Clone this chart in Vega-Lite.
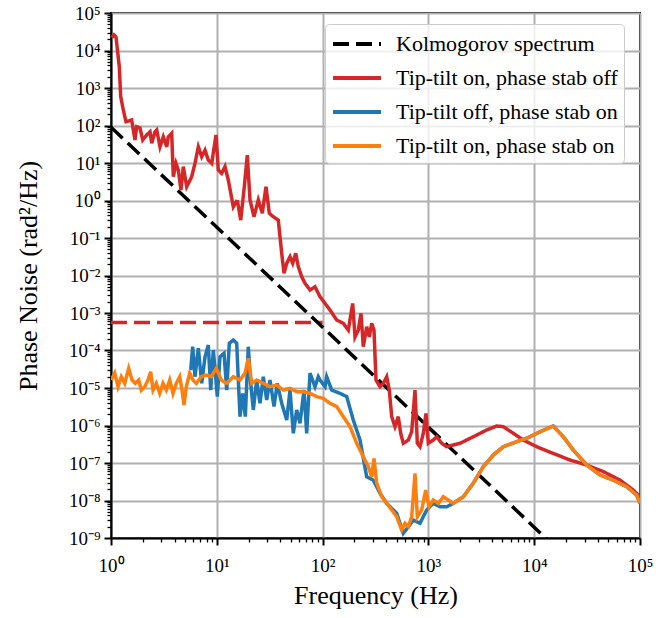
{
  "$schema": "https://vega.github.io/schema/vega-lite/v6.json",
  "autosize": {"type": "none"},
  "width": 529,
  "height": 525,
  "padding": {"left": 111, "top": 13, "right": 16, "bottom": 80},
  "background": "white",
  "config": {
    "view": {"stroke": "black", "strokeWidth": 2},
    "font": "Liberation Serif",
    "axis": {
      "domainColor": "black", "domainWidth": 2,
      "tickColor": "black",
      "labelFont": "Liberation Serif", "labelFontSize": 19, "labelColor": "black",
      "titleFont": "Liberation Serif", "titleFontSize": 26, "titleFontWeight": "normal", "titleColor": "black",
      "gridColor": "#b0b0b0", "gridWidth": 2,
      "labelOverlap": false, "labelBound": false, "labelFlush": false
    },
    "legend": {
      "orient": "none", "legendX": 214, "legendY": 11,
      "labelFont": "Liberation Serif", "labelFontSize": 22, "labelColor": "black", "labelLimit": 400,
      "symbolType": "M-2,0H2", "symbolSize": 576, "symbolStrokeWidth": 4, "symbolOffset": 12,
      "rowPadding": 9, "padding": 6, "labelOffset": 25,
      "strokeColor": "#cccccc", "fillColor": "rgba(255,255,255,0.8)", "cornerRadius": 4
    }
  },
  "layer": [
    {
      "data": {"values": [{"f": 1, "v": 5.6e-4}, {"f": 100, "v": 5.6e-4}]},
      "mark": {"type": "line", "color": "#d62728", "strokeWidth": 3.5, "strokeDash": [16, 7], "clip": true},
      "encoding": {
        "x": {"field": "f", "type": "quantitative", "scale": {"type": "log", "domain": [1, 100000], "nice": false},
          "axis": {"title": "Frequency (Hz)", "tickCount": 50, "titlePadding": 7, "labelPadding": 11,
            "labelExpr": "abs(log(datum.value)/LN10 - round(log(datum.value)/LN10)) < 1e-6 ? '10' + (round(log(datum.value)/LN10) < 0 ? '⁻' : '') + substring('⁰¹²³⁴⁵⁶⁷⁸⁹', abs(round(log(datum.value)/LN10)), abs(round(log(datum.value)/LN10)) + 1) : ''",
            "tickSize": {"condition": {"test": "abs(log(datum.value)/LN10 - round(log(datum.value)/LN10)) < 1e-6", "value": 7}, "value": 4},
            "tickWidth": {"condition": {"test": "abs(log(datum.value)/LN10 - round(log(datum.value)/LN10)) < 1e-6", "value": 2}, "value": 1.3},
            "gridOpacity": {"condition": {"test": "abs(log(datum.value)/LN10 - round(log(datum.value)/LN10)) < 1e-6", "value": 1}, "value": 0}}},
        "y": {"field": "v", "type": "quantitative", "scale": {"type": "log", "domain": [1e-9, 100000], "nice": false},
          "axis": {"title": "Phase Noise (rad²/Hz)", "tickCount": 50, "titlePadding": 27, "labelPadding": 4,
            "labelExpr": "abs(log(datum.value)/LN10 - round(log(datum.value)/LN10)) < 1e-6 ? '10' + (round(log(datum.value)/LN10) < 0 ? '⁻' : '') + substring('⁰¹²³⁴⁵⁶⁷⁸⁹', abs(round(log(datum.value)/LN10)), abs(round(log(datum.value)/LN10)) + 1) : ''",
            "tickSize": {"condition": {"test": "abs(log(datum.value)/LN10 - round(log(datum.value)/LN10)) < 1e-6", "value": 7}, "value": 4},
            "tickWidth": {"condition": {"test": "abs(log(datum.value)/LN10 - round(log(datum.value)/LN10)) < 1e-6", "value": 2}, "value": 1.3},
            "gridOpacity": {"condition": {"test": "abs(log(datum.value)/LN10 - round(log(datum.value)/LN10)) < 1e-6", "value": 1}, "value": 0}}}
      }
    },
    {
      "data": {"name": "curves"},
      "mark": {"type": "line", "strokeWidth": 3.5, "clip": true},
      "encoding": {
        "x": {"field": "f", "type": "quantitative"},
        "y": {"field": "v", "type": "quantitative"},
        "color": {"field": "s", "type": "nominal",
          "scale": {"domain": ["Kolmogorov spectrum", "Tip-tilt on, phase stab off", "Tip-tilt off, phase stab on", "Tip-tilt on, phase stab on"],
                    "range": ["#000000", "#d62728", "#1f77b4", "#ff7f0e"]},
          "legend": {"title": null}},
        "strokeDash": {"field": "s", "type": "nominal",
          "scale": {"domain": ["Kolmogorov spectrum", "Tip-tilt on, phase stab off", "Tip-tilt off, phase stab on", "Tip-tilt on, phase stab on"],
                    "range": [[16, 7], [1, 0], [1, 0], [1, 0]]},
          "legend": {"title": null}}
      }
    }
  ],
  "datasets": {
    "curves": [
      {"s": "Kolmogorov spectrum", "f": 1, "v": 90},
      {"s": "Kolmogorov spectrum", "f": 100000, "v": 4.18e-12},
      {"s": "Tip-tilt on, phase stab off", "f": 1.02, "v": 2.2e4},
      {"s": "Tip-tilt on, phase stab off", "f": 1.068, "v": 2.6e4},
      {"s": "Tip-tilt on, phase stab off", "f": 1.115, "v": 2.3e4},
      {"s": "Tip-tilt on, phase stab off", "f": 1.198, "v": 3.7e3},
      {"s": "Tip-tilt on, phase stab off", "f": 1.235, "v": 590},
      {"s": "Tip-tilt on, phase stab off", "f": 1.307, "v": 260},
      {"s": "Tip-tilt on, phase stab off", "f": 1.386, "v": 126},
      {"s": "Tip-tilt on, phase stab off", "f": 1.569, "v": 140},
      {"s": "Tip-tilt on, phase stab off", "f": 1.686, "v": 41},
      {"s": "Tip-tilt on, phase stab off", "f": 1.75, "v": 93},
      {"s": "Tip-tilt on, phase stab off", "f": 1.879, "v": 86},
      {"s": "Tip-tilt on, phase stab off", "f": 1.994, "v": 41},
      {"s": "Tip-tilt on, phase stab off", "f": 2.175, "v": 56},
      {"s": "Tip-tilt on, phase stab off", "f": 2.337, "v": 68},
      {"s": "Tip-tilt on, phase stab off", "f": 2.425, "v": 33.5},
      {"s": "Tip-tilt on, phase stab off", "f": 2.605, "v": 68},
      {"s": "Tip-tilt on, phase stab off", "f": 2.704, "v": 76},
      {"s": "Tip-tilt on, phase stab off", "f": 2.905, "v": 27},
      {"s": "Tip-tilt on, phase stab off", "f": 3.121, "v": 50},
      {"s": "Tip-tilt on, phase stab off", "f": 3.361, "v": 27},
      {"s": "Tip-tilt on, phase stab off", "f": 3.48, "v": 50},
      {"s": "Tip-tilt on, phase stab off", "f": 3.747, "v": 62},
      {"s": "Tip-tilt on, phase stab off", "f": 3.88, "v": 4.3},
      {"s": "Tip-tilt on, phase stab off", "f": 4.115, "v": 9.8},
      {"s": "Tip-tilt on, phase stab off", "f": 4.326, "v": 6.5},
      {"s": "Tip-tilt on, phase stab off", "f": 4.587, "v": 1.9},
      {"s": "Tip-tilt on, phase stab off", "f": 4.824, "v": 8.0},
      {"s": "Tip-tilt on, phase stab off", "f": 5.195, "v": 2.33},
      {"s": "Tip-tilt on, phase stab off", "f": 5.79, "v": 4.3},
      {"s": "Tip-tilt on, phase stab off", "f": 6.22, "v": 9.8},
      {"s": "Tip-tilt on, phase stab off", "f": 6.69, "v": 27},
      {"s": "Tip-tilt on, phase stab off", "f": 7.2, "v": 14.7},
      {"s": "Tip-tilt on, phase stab off", "f": 7.74, "v": 22},
      {"s": "Tip-tilt on, phase stab off", "f": 8.31, "v": 12},
      {"s": "Tip-tilt on, phase stab off", "f": 8.95, "v": 9.8},
      {"s": "Tip-tilt on, phase stab off", "f": 9.83, "v": 56},
      {"s": "Tip-tilt on, phase stab off", "f": 10.33, "v": 6.5},
      {"s": "Tip-tilt on, phase stab off", "f": 11.12, "v": 5.3},
      {"s": "Tip-tilt on, phase stab off", "f": 11.95, "v": 8.0},
      {"s": "Tip-tilt on, phase stab off", "f": 12.85, "v": 3.5},
      {"s": "Tip-tilt on, phase stab off", "f": 14.32, "v": 0.68},
      {"s": "Tip-tilt on, phase stab off", "f": 15.62, "v": 1.03},
      {"s": "Tip-tilt on, phase stab off", "f": 16.83, "v": 0.3},
      {"s": "Tip-tilt on, phase stab off", "f": 18.2, "v": 2.33},
      {"s": "Tip-tilt on, phase stab off", "f": 19.42, "v": 16.3},
      {"s": "Tip-tilt on, phase stab off", "f": 20.6, "v": 1.03},
      {"s": "Tip-tilt on, phase stab off", "f": 22.47, "v": 0.37},
      {"s": "Tip-tilt on, phase stab off", "f": 24.67, "v": 1.03},
      {"s": "Tip-tilt on, phase stab off", "f": 26.92, "v": 0.456},
      {"s": "Tip-tilt on, phase stab off", "f": 29.17, "v": 2.33},
      {"s": "Tip-tilt on, phase stab off", "f": 31.35, "v": 0.456},
      {"s": "Tip-tilt on, phase stab off", "f": 34.2, "v": 0.37},
      {"s": "Tip-tilt on, phase stab off", "f": 38.13, "v": 0.3},
      {"s": "Tip-tilt on, phase stab off", "f": 41.07, "v": 0.039},
      {"s": "Tip-tilt on, phase stab off", "f": 43.17, "v": 0.0115},
      {"s": "Tip-tilt on, phase stab off", "f": 45.79, "v": 0.0211},
      {"s": "Tip-tilt on, phase stab off", "f": 49.19, "v": 0.0317},
      {"s": "Tip-tilt on, phase stab off", "f": 52.17, "v": 0.0211},
      {"s": "Tip-tilt on, phase stab off", "f": 55.68, "v": 0.039},
      {"s": "Tip-tilt on, phase stab off", "f": 58.92, "v": 0.0172},
      {"s": "Tip-tilt on, phase stab off", "f": 63.46, "v": 0.0093},
      {"s": "Tip-tilt on, phase stab off", "f": 68.19, "v": 0.0062},
      {"s": "Tip-tilt on, phase stab off", "f": 76.02, "v": 0.0041},
      {"s": "Tip-tilt on, phase stab off", "f": 84.76, "v": 0.005},
      {"s": "Tip-tilt on, phase stab off", "f": 94.5, "v": 0.00272},
      {"s": "Tip-tilt on, phase stab off", "f": 117.5, "v": 0.0012},
      {"s": "Tip-tilt on, phase stab off", "f": 135.9, "v": 6.5e-4},
      {"s": "Tip-tilt on, phase stab off", "f": 157, "v": 5.3e-4},
      {"s": "Tip-tilt on, phase stab off", "f": 175, "v": 3.5e-4},
      {"s": "Tip-tilt on, phase stab off", "f": 192.6, "v": 1.8e-3},
      {"s": "Tip-tilt on, phase stab off", "f": 202.4, "v": 2.3e-4},
      {"s": "Tip-tilt on, phase stab off", "f": 217.5, "v": 3.5e-4},
      {"s": "Tip-tilt on, phase stab off", "f": 230.7, "v": 9.8e-4},
      {"s": "Tip-tilt on, phase stab off", "f": 242.4, "v": 1.26e-4},
      {"s": "Tip-tilt on, phase stab off", "f": 261.1, "v": 4.3e-4},
      {"s": "Tip-tilt on, phase stab off", "f": 276.3, "v": 2.3e-4},
      {"s": "Tip-tilt on, phase stab off", "f": 291.2, "v": 5.3e-4},
      {"s": "Tip-tilt on, phase stab off", "f": 306.1, "v": 3.5e-4},
      {"s": "Tip-tilt on, phase stab off", "f": 319.7, "v": 1.63e-5},
      {"s": "Tip-tilt on, phase stab off", "f": 348.7, "v": 1.08e-5},
      {"s": "Tip-tilt on, phase stab off", "f": 374.8, "v": 1.33e-5},
      {"s": "Tip-tilt on, phase stab off", "f": 403.6, "v": 2.0e-5},
      {"s": "Tip-tilt on, phase stab off", "f": 427, "v": 8.8e-6},
      {"s": "Tip-tilt on, phase stab off", "f": 450, "v": 1.72e-6},
      {"s": "Tip-tilt on, phase stab off", "f": 483, "v": 9.3e-7},
      {"s": "Tip-tilt on, phase stab off", "f": 519, "v": 1.72e-6},
      {"s": "Tip-tilt on, phase stab off", "f": 547, "v": 6.2e-7},
      {"s": "Tip-tilt on, phase stab off", "f": 579, "v": 3.35e-7},
      {"s": "Tip-tilt on, phase stab off", "f": 646, "v": 4.1e-7},
      {"s": "Tip-tilt on, phase stab off", "f": 695, "v": 6.8e-7},
      {"s": "Tip-tilt on, phase stab off", "f": 747, "v": 8.8e-6},
      {"s": "Tip-tilt on, phase stab off", "f": 786, "v": 3.35e-7},
      {"s": "Tip-tilt on, phase stab off", "f": 833, "v": 2.72e-7},
      {"s": "Tip-tilt on, phase stab off", "f": 895, "v": 6.2e-7},
      {"s": "Tip-tilt on, phase stab off", "f": 949, "v": 2.1e-6},
      {"s": "Tip-tilt on, phase stab off", "f": 998, "v": 3.35e-7},
      {"s": "Tip-tilt on, phase stab off", "f": 1112, "v": 4.1e-7},
      {"s": "Tip-tilt on, phase stab off", "f": 1198, "v": 5.0e-7},
      {"s": "Tip-tilt on, phase stab off", "f": 1336, "v": 3.35e-7},
      {"s": "Tip-tilt on, phase stab off", "f": 1489, "v": 2.72e-7},
      {"s": "Tip-tilt on, phase stab off", "f": 1990, "v": 3.35e-7},
      {"s": "Tip-tilt on, phase stab off", "f": 2657, "v": 5.0e-7},
      {"s": "Tip-tilt on, phase stab off", "f": 3556, "v": 7.6e-7},
      {"s": "Tip-tilt on, phase stab off", "f": 4422, "v": 9.7e-7},
      {"s": "Tip-tilt on, phase stab off", "f": 5105, "v": 9.3e-7},
      {"s": "Tip-tilt on, phase stab off", "f": 6344, "v": 6.2e-7},
      {"s": "Tip-tilt on, phase stab off", "f": 7889, "v": 4.1e-7},
      {"s": "Tip-tilt on, phase stab off", "f": 10560, "v": 2.72e-7},
      {"s": "Tip-tilt on, phase stab off", "f": 15150, "v": 1.8e-7},
      {"s": "Tip-tilt on, phase stab off", "f": 21800, "v": 1.2e-7},
      {"s": "Tip-tilt on, phase stab off", "f": 31350, "v": 8.85e-8},
      {"s": "Tip-tilt on, phase stab off", "f": 45000, "v": 5.9e-8},
      {"s": "Tip-tilt on, phase stab off", "f": 64700, "v": 3.5e-8},
      {"s": "Tip-tilt on, phase stab off", "f": 86400, "v": 1.9e-8},
      {"s": "Tip-tilt on, phase stab off", "f": 100000, "v": 1.26e-8},
      {"s": "Tip-tilt off, phase stab on", "f": 5.666, "v": 3.0e-5},
      {"s": "Tip-tilt off, phase stab on", "f": 5.918, "v": 1.26e-4},
      {"s": "Tip-tilt off, phase stab on", "f": 6.22, "v": 2.0e-5},
      {"s": "Tip-tilt off, phase stab on", "f": 6.69, "v": 1.15e-4},
      {"s": "Tip-tilt off, phase stab on", "f": 7.2, "v": 1.33e-5},
      {"s": "Tip-tilt off, phase stab on", "f": 7.74, "v": 6.8e-5},
      {"s": "Tip-tilt off, phase stab on", "f": 8.31, "v": 1.4e-4},
      {"s": "Tip-tilt off, phase stab on", "f": 8.76, "v": 8.8e-6},
      {"s": "Tip-tilt off, phase stab on", "f": 9.27, "v": 1.03e-4},
      {"s": "Tip-tilt off, phase stab on", "f": 10.11, "v": 5.9e-6},
      {"s": "Tip-tilt off, phase stab on", "f": 10.72, "v": 6.8e-5},
      {"s": "Tip-tilt off, phase stab on", "f": 11.7, "v": 8.4e-5},
      {"s": "Tip-tilt off, phase stab on", "f": 12.41, "v": 8.8e-6},
      {"s": "Tip-tilt off, phase stab on", "f": 13.13, "v": 1.56e-4},
      {"s": "Tip-tilt off, phase stab on", "f": 14.32, "v": 1.9e-4},
      {"s": "Tip-tilt off, phase stab on", "f": 15.42, "v": 1.56e-4},
      {"s": "Tip-tilt off, phase stab on", "f": 15.97, "v": 1.63e-5},
      {"s": "Tip-tilt off, phase stab on", "f": 16.57, "v": 1.72e-6},
      {"s": "Tip-tilt off, phase stab on", "f": 17.57, "v": 7.2e-6},
      {"s": "Tip-tilt off, phase stab on", "f": 18.6, "v": 1.72e-6},
      {"s": "Tip-tilt off, phase stab on", "f": 19.85, "v": 1.26e-4},
      {"s": "Tip-tilt off, phase stab on", "f": 20.92, "v": 1.33e-5},
      {"s": "Tip-tilt off, phase stab on", "f": 22.13, "v": 2.6e-6},
      {"s": "Tip-tilt off, phase stab on", "f": 23.84, "v": 1.63e-5},
      {"s": "Tip-tilt off, phase stab on", "f": 25.6, "v": 3.9e-6},
      {"s": "Tip-tilt off, phase stab on", "f": 27.51, "v": 2.0e-5},
      {"s": "Tip-tilt off, phase stab on", "f": 29.62, "v": 4.8e-6},
      {"s": "Tip-tilt off, phase stab on", "f": 31.83, "v": 1.63e-5},
      {"s": "Tip-tilt off, phase stab on", "f": 34.73, "v": 3.2e-6},
      {"s": "Tip-tilt off, phase stab on", "f": 37.31, "v": 1.33e-5},
      {"s": "Tip-tilt off, phase stab on", "f": 41.07, "v": 3.9e-6},
      {"s": "Tip-tilt off, phase stab on", "f": 45.79, "v": 1.4e-6},
      {"s": "Tip-tilt off, phase stab on", "f": 49.19, "v": 8.8e-6},
      {"s": "Tip-tilt off, phase stab on", "f": 52.86, "v": 6.2e-7},
      {"s": "Tip-tilt off, phase stab on", "f": 56.91, "v": 2.6e-6},
      {"s": "Tip-tilt off, phase stab on", "f": 61.15, "v": 1.15e-6},
      {"s": "Tip-tilt off, phase stab on", "f": 66.71, "v": 8.8e-6},
      {"s": "Tip-tilt off, phase stab on", "f": 70.74, "v": 6.2e-7},
      {"s": "Tip-tilt off, phase stab on", "f": 76.02, "v": 2.5e-5},
      {"s": "Tip-tilt off, phase stab on", "f": 84.76, "v": 1.08e-5},
      {"s": "Tip-tilt off, phase stab on", "f": 91.09, "v": 2.0e-5},
      {"s": "Tip-tilt off, phase stab on", "f": 94.5, "v": 1.63e-5},
      {"s": "Tip-tilt off, phase stab on", "f": 105.4, "v": 1.08e-5},
      {"s": "Tip-tilt off, phase stab on", "f": 109.3, "v": 2.0e-5},
      {"s": "Tip-tilt off, phase stab on", "f": 121.9, "v": 8.8e-6},
      {"s": "Tip-tilt off, phase stab on", "f": 146, "v": 7.2e-6},
      {"s": "Tip-tilt off, phase stab on", "f": 169, "v": 5.9e-6},
      {"s": "Tip-tilt off, phase stab on", "f": 195, "v": 1.4e-6},
      {"s": "Tip-tilt off, phase stab on", "f": 225.7, "v": 4.1e-7},
      {"s": "Tip-tilt off, phase stab on", "f": 261, "v": 4.3e-8},
      {"s": "Tip-tilt off, phase stab on", "f": 301.4, "v": 3.5e-8},
      {"s": "Tip-tilt off, phase stab on", "f": 348.7, "v": 1.56e-8},
      {"s": "Tip-tilt off, phase stab on", "f": 403.6, "v": 8.4e-9},
      {"s": "Tip-tilt off, phase stab on", "f": 501.6, "v": 4.56e-9},
      {"s": "Tip-tilt off, phase stab on", "f": 579, "v": 1.33e-9},
      {"s": "Tip-tilt off, phase stab on", "f": 720, "v": 3.0e-9},
      {"s": "Tip-tilt off, phase stab on", "f": 833, "v": 2.47e-9},
      {"s": "Tip-tilt off, phase stab on", "f": 964, "v": 5.6e-9},
      {"s": "Tip-tilt off, phase stab on", "f": 1112, "v": 8.4e-9},
      {"s": "Tip-tilt off, phase stab on", "f": 1287, "v": 6.8e-9},
      {"s": "Tip-tilt off, phase stab on", "f": 1489, "v": 6.8e-9},
      {"s": "Tip-tilt off, phase stab on", "f": 1719, "v": 8.4e-9},
      {"s": "Tip-tilt off, phase stab on", "f": 2138, "v": 1.26e-8},
      {"s": "Tip-tilt off, phase stab on", "f": 2657, "v": 2.9e-8},
      {"s": "Tip-tilt off, phase stab on", "f": 3303, "v": 8.0e-8},
      {"s": "Tip-tilt off, phase stab on", "f": 4107, "v": 1.63e-7},
      {"s": "Tip-tilt off, phase stab on", "f": 5105, "v": 2.72e-7},
      {"s": "Tip-tilt off, phase stab on", "f": 6832, "v": 3.7e-7},
      {"s": "Tip-tilt off, phase stab on", "f": 8494, "v": 4.56e-7},
      {"s": "Tip-tilt off, phase stab on", "f": 11340, "v": 6.8e-7},
      {"s": "Tip-tilt off, phase stab on", "f": 15150, "v": 9.7e-7},
      {"s": "Tip-tilt off, phase stab on", "f": 18840, "v": 5.0e-7},
      {"s": "Tip-tilt off, phase stab on", "f": 23420, "v": 2.22e-7},
      {"s": "Tip-tilt off, phase stab on", "f": 31350, "v": 8.85e-8},
      {"s": "Tip-tilt off, phase stab on", "f": 41900, "v": 4.8e-8},
      {"s": "Tip-tilt off, phase stab on", "f": 55900, "v": 3.5e-8},
      {"s": "Tip-tilt off, phase stab on", "f": 74900, "v": 2.33e-8},
      {"s": "Tip-tilt off, phase stab on", "f": 93100, "v": 1.4e-8},
      {"s": "Tip-tilt off, phase stab on", "f": 100000, "v": 8.4e-9},
      {"s": "Tip-tilt on, phase stab on", "f": 1.006, "v": 1.63e-5},
      {"s": "Tip-tilt on, phase stab on", "f": 1.084, "v": 2.5e-5},
      {"s": "Tip-tilt on, phase stab on", "f": 1.165, "v": 1.08e-5},
      {"s": "Tip-tilt on, phase stab on", "f": 1.251, "v": 2.0e-5},
      {"s": "Tip-tilt on, phase stab on", "f": 1.348, "v": 1.33e-5},
      {"s": "Tip-tilt on, phase stab on", "f": 1.47, "v": 3.35e-5},
      {"s": "Tip-tilt on, phase stab on", "f": 1.579, "v": 1.63e-5},
      {"s": "Tip-tilt on, phase stab on", "f": 1.697, "v": 1.33e-5},
      {"s": "Tip-tilt on, phase stab on", "f": 1.827, "v": 1.63e-5},
      {"s": "Tip-tilt on, phase stab on", "f": 1.933, "v": 8.8e-6},
      {"s": "Tip-tilt on, phase stab on", "f": 2.083, "v": 1.08e-5},
      {"s": "Tip-tilt on, phase stab on", "f": 2.237, "v": 1.63e-5},
      {"s": "Tip-tilt on, phase stab on", "f": 2.373, "v": 2.72e-5},
      {"s": "Tip-tilt on, phase stab on", "f": 2.495, "v": 8.8e-6},
      {"s": "Tip-tilt on, phase stab on", "f": 2.681, "v": 1.33e-5},
      {"s": "Tip-tilt on, phase stab on", "f": 2.886, "v": 7.2e-6},
      {"s": "Tip-tilt on, phase stab on", "f": 3.101, "v": 1.33e-5},
      {"s": "Tip-tilt on, phase stab on", "f": 3.332, "v": 8.8e-6},
      {"s": "Tip-tilt on, phase stab on", "f": 3.587, "v": 1.63e-5},
      {"s": "Tip-tilt on, phase stab on", "f": 3.855, "v": 7.2e-6},
      {"s": "Tip-tilt on, phase stab on", "f": 4.142, "v": 1.33e-5},
      {"s": "Tip-tilt on, phase stab on", "f": 4.46, "v": 2.0e-5},
      {"s": "Tip-tilt on, phase stab on", "f": 4.69, "v": 8.8e-6},
      {"s": "Tip-tilt on, phase stab on", "f": 4.898, "v": 3.5e-6},
      {"s": "Tip-tilt on, phase stab on", "f": 5.149, "v": 1.08e-5},
      {"s": "Tip-tilt on, phase stab on", "f": 5.545, "v": 2.5e-5},
      {"s": "Tip-tilt on, phase stab on", "f": 5.957, "v": 1.63e-5},
      {"s": "Tip-tilt on, phase stab on", "f": 6.401, "v": 1.33e-5},
      {"s": "Tip-tilt on, phase stab on", "f": 7.137, "v": 2.0e-5},
      {"s": "Tip-tilt on, phase stab on", "f": 7.957, "v": 2.22e-5},
      {"s": "Tip-tilt on, phase stab on", "f": 8.872, "v": 2.0e-5},
      {"s": "Tip-tilt on, phase stab on", "f": 9.89, "v": 3.35e-5},
      {"s": "Tip-tilt on, phase stab on", "f": 11.03, "v": 1.63e-5},
      {"s": "Tip-tilt on, phase stab on", "f": 12.41, "v": 1.33e-5},
      {"s": "Tip-tilt on, phase stab on", "f": 14.32, "v": 2.0e-5},
      {"s": "Tip-tilt on, phase stab on", "f": 16.57, "v": 1.63e-5},
      {"s": "Tip-tilt on, phase stab on", "f": 18.48, "v": 2.5e-5},
      {"s": "Tip-tilt on, phase stab on", "f": 19.85, "v": 6.2e-5},
      {"s": "Tip-tilt on, phase stab on", "f": 21.37, "v": 1.33e-5},
      {"s": "Tip-tilt on, phase stab on", "f": 23.84, "v": 1.63e-5},
      {"s": "Tip-tilt on, phase stab on", "f": 27.51, "v": 1.33e-5},
      {"s": "Tip-tilt on, phase stab on", "f": 31.83, "v": 1.08e-5},
      {"s": "Tip-tilt on, phase stab on", "f": 36.83, "v": 1.2e-5},
      {"s": "Tip-tilt on, phase stab on", "f": 42.52, "v": 8.8e-6},
      {"s": "Tip-tilt on, phase stab on", "f": 49.19, "v": 9.8e-6},
      {"s": "Tip-tilt on, phase stab on", "f": 56.91, "v": 8.0e-6},
      {"s": "Tip-tilt on, phase stab on", "f": 65.7, "v": 8.0e-6},
      {"s": "Tip-tilt on, phase stab on", "f": 76.02, "v": 7.2e-6},
      {"s": "Tip-tilt on, phase stab on", "f": 87.9, "v": 5.9e-6},
      {"s": "Tip-tilt on, phase stab on", "f": 101.5, "v": 5.3e-6},
      {"s": "Tip-tilt on, phase stab on", "f": 117.5, "v": 3.9e-6},
      {"s": "Tip-tilt on, phase stab on", "f": 135.9, "v": 3.2e-6},
      {"s": "Tip-tilt on, phase stab on", "f": 157, "v": 1.72e-6},
      {"s": "Tip-tilt on, phase stab on", "f": 181.6, "v": 9.3e-7},
      {"s": "Tip-tilt on, phase stab on", "f": 210.1, "v": 3.35e-7},
      {"s": "Tip-tilt on, phase stab on", "f": 242.4, "v": 1.47e-7},
      {"s": "Tip-tilt on, phase stab on", "f": 270.3, "v": 8.0e-8},
      {"s": "Tip-tilt on, phase stab on", "f": 291.2, "v": 4.3e-8},
      {"s": "Tip-tilt on, phase stab on", "f": 306.1, "v": 1.33e-7},
      {"s": "Tip-tilt on, phase stab on", "f": 324.6, "v": 2.9e-8},
      {"s": "Tip-tilt on, phase stab on", "f": 361.9, "v": 1.26e-8},
      {"s": "Tip-tilt on, phase stab on", "f": 403.6, "v": 8.4e-9},
      {"s": "Tip-tilt on, phase stab on", "f": 450, "v": 5.6e-9},
      {"s": "Tip-tilt on, phase stab on", "f": 501.6, "v": 3.7e-9},
      {"s": "Tip-tilt on, phase stab on", "f": 559.3, "v": 1.63e-9},
      {"s": "Tip-tilt on, phase stab on", "f": 600.9, "v": 2.47e-9},
      {"s": "Tip-tilt on, phase stab on", "f": 645.7, "v": 2.0e-9},
      {"s": "Tip-tilt on, phase stab on", "f": 695.4, "v": 3.7e-9},
      {"s": "Tip-tilt on, phase stab on", "f": 747.1, "v": 5.3e-8},
      {"s": "Tip-tilt on, phase stab on", "f": 785.6, "v": 3.7e-9},
      {"s": "Tip-tilt on, phase stab on", "f": 864.6, "v": 5.6e-9},
      {"s": "Tip-tilt on, phase stab on", "f": 943, "v": 1.9e-8},
      {"s": "Tip-tilt on, phase stab on", "f": 1013, "v": 6.8e-9},
      {"s": "Tip-tilt on, phase stab on", "f": 1112, "v": 1.03e-8},
      {"s": "Tip-tilt on, phase stab on", "f": 1241, "v": 8.4e-9},
      {"s": "Tip-tilt on, phase stab on", "f": 1383, "v": 1.26e-8},
      {"s": "Tip-tilt on, phase stab on", "f": 1542, "v": 1.03e-8},
      {"s": "Tip-tilt on, phase stab on", "f": 1719, "v": 8.4e-9},
      {"s": "Tip-tilt on, phase stab on", "f": 2138, "v": 1.26e-8},
      {"s": "Tip-tilt on, phase stab on", "f": 2657, "v": 2.9e-8},
      {"s": "Tip-tilt on, phase stab on", "f": 3303, "v": 8.0e-8},
      {"s": "Tip-tilt on, phase stab on", "f": 4107, "v": 1.63e-7},
      {"s": "Tip-tilt on, phase stab on", "f": 5105, "v": 2.72e-7},
      {"s": "Tip-tilt on, phase stab on", "f": 6832, "v": 3.7e-7},
      {"s": "Tip-tilt on, phase stab on", "f": 8494, "v": 4.56e-7},
      {"s": "Tip-tilt on, phase stab on", "f": 11340, "v": 6.8e-7},
      {"s": "Tip-tilt on, phase stab on", "f": 15150, "v": 9.7e-7},
      {"s": "Tip-tilt on, phase stab on", "f": 18840, "v": 5.0e-7},
      {"s": "Tip-tilt on, phase stab on", "f": 23420, "v": 2.22e-7},
      {"s": "Tip-tilt on, phase stab on", "f": 31350, "v": 8.85e-8},
      {"s": "Tip-tilt on, phase stab on", "f": 41900, "v": 4.8e-8},
      {"s": "Tip-tilt on, phase stab on", "f": 55900, "v": 3.5e-8},
      {"s": "Tip-tilt on, phase stab on", "f": 74900, "v": 2.33e-8},
      {"s": "Tip-tilt on, phase stab on", "f": 93100, "v": 1.4e-8},
      {"s": "Tip-tilt on, phase stab on", "f": 100000, "v": 8.4e-9}
    ]
  }
}
